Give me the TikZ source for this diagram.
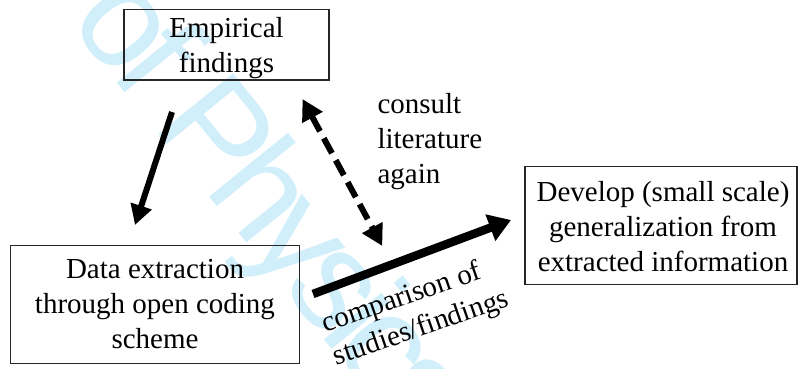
\documentclass[tikz,border=0pt]{standalone}
\usepackage{fontspec}
\setmainfont{Liberation Serif}
\newfontfamily\wmfont[LetterSpace=-8]{Liberation Sans}
\usetikzlibrary{arrows.meta}
\definecolor{wmblue}{RGB}{208,239,251}
\tikzset{
  x=1pt, y=-1pt,
  boxnode/.style={draw=black!85, line width=1.1pt, inner sep=0pt},
  txt/.style={font=\fontsize{29}{34.7}\selectfont, inner sep=0pt, align=center},
  ltxt/.style={font=\fontsize{29}{34.7}\selectfont, inner sep=0pt, align=left},
  solidarrow/.style={line width=6pt, -{Triangle[length=20pt,width=21pt]}},
  dasharrow/.style={line width=6pt, dash pattern=on 17pt off 8pt, {Triangle[length=21pt,width=22pt]}-{Triangle[length=21pt,width=22pt]}},
  thickarrow/.style={line width=8.5pt, -{Triangle[length=22pt,width=27pt]}},
  wm/.style={text=wmblue, font=\wmfont\fontsize{140}{140}\selectfont, inner sep=0pt}
}
\begin{document}
\begin{tikzpicture}
\fill[white] (0,0) rectangle (804,369);
\useasboundingbox (0,0) rectangle (804,369);
% watermark
\node[wm, anchor=base west, rotate=-51] (wmk) at (67.3,21.6) {of Physics};
% boxes
\node[boxnode, minimum width=205pt, minimum height=70.7pt] (emp) at (226.5,44.7) {};
\node[boxnode, minimum width=288.6pt, minimum height=118.3pt] (data) at (155,304.2) {};
\node[boxnode, minimum width=272pt, minimum height=118.3pt] (dev) at (661,225.2) {};
% box texts
\node[txt, anchor=north] (empt) at (226.5,17.5) {Empirical\\findings};
\node[txt, anchor=north] (datat) at (155,259.5) {Data extraction\\through open coding\\scheme};
\node[txt, anchor=north] (devt) at (663,181.6) {Develop (small scale)\\generalization from\\extracted information};
% free labels
\node[ltxt, anchor=north west] (consult) at (377.3,93.5) {consult\\literature\\again};
\node[ltxt, anchor=north west, rotate=19] (comp) at (318.5,313.3) {comparison of\\studies/findings};
% connector end points
\coordinate (a1s) at (172,112);
\coordinate (a1e) at (135,225);
\coordinate (a2s) at (302.5,99);
\coordinate (a2e) at (382.3,246);
\coordinate (a3s) at (313,294);
\coordinate (a3e) at (511,220);
% connectors
\draw[solidarrow] (a1s) -- (a1e);
\draw[dasharrow] (a2s) -- (a2e);
\draw[thickarrow] (a3s) -- (a3e);
\end{tikzpicture}
\end{document}
